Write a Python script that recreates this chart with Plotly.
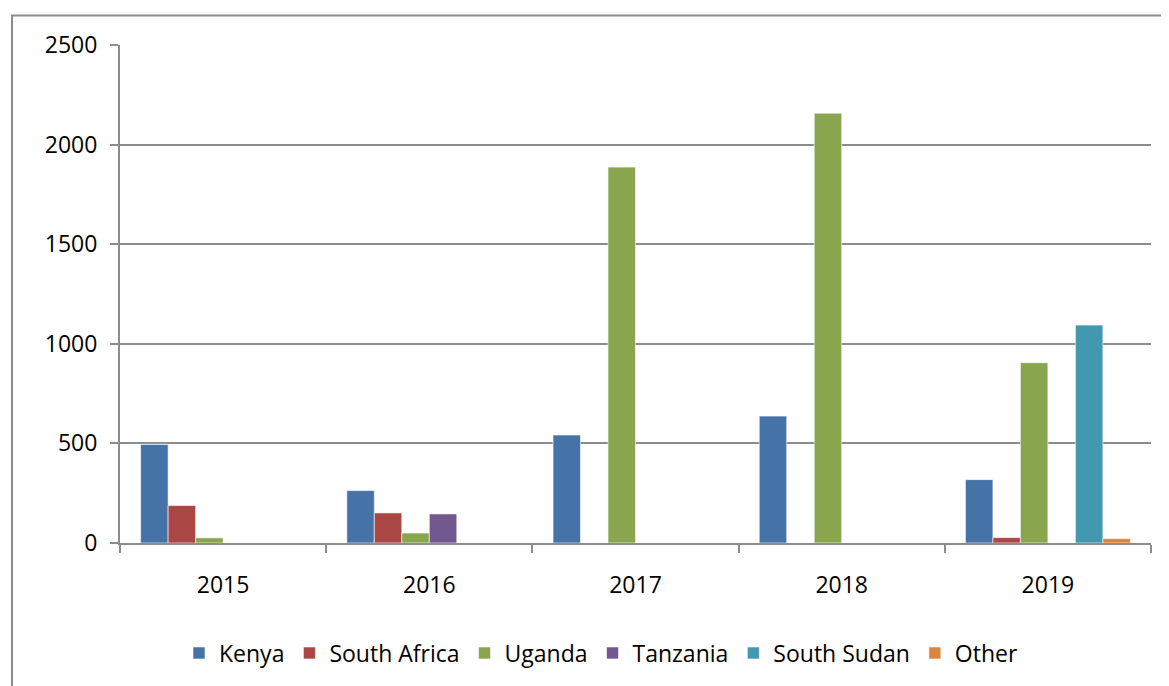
import plotly.graph_objects as go

years = ["2015", "2016", "2017", "2018", "2019"]

kenya = [495, 263, 542, 637, 318]
south_africa = [188, 151, None, None, 27]
uganda = [26, 50, 1887, 2158, 905]
tanzania = [None, 146, None, None, None]
south_sudan = [None, None, None, None, 1094]
other = [None, None, None, None, 22]

series = [
    ("Kenya", kenya, "#4572A7"),
    ("South Africa", south_africa, "#AA4643"),
    ("Uganda", uganda, "#89A54E"),
    ("Tanzania", tanzania, "#71588F"),
    ("South Sudan", south_sudan, "#4198AF"),
    ("Other", other, "#DB843D"),
]

# page body has an 8px margin, so the figure is offset by 8px
OFF = 8
W, H = 1169 - OFF, 686 - OFF
L, R, T = 120 - OFF, 18, 45 - OFF
B = H + OFF - 543
pw, ph = W - L - R, H - T - B

fig = go.Figure()
for name, vals, color in series:
    fig.add_trace(go.Bar(
        x=years, y=vals, name=name,
        marker=dict(color=color, line=dict(color="rgba(255,255,255,0.6)", width=1)),
    ))

grid = "#8c8c8c"
font = dict(family="Open Sans, Liberation Sans, sans-serif", size=23, color="#000000")


# convert screen pixels to paper coords
def px_x(x):
    return (x - OFF - L) / pw


def px_y(y):
    return (H + OFF - B - y) / ph


# outer chart border (cropped at right and bottom in the original)
fig.add_shape(type="rect", xref="paper", yref="paper",
              x0=px_x(12), x1=px_x(1200), y0=px_y(15.5), y1=px_y(720),
              line=dict(color="#8c8c8c", width=2), fillcolor="rgba(0,0,0,0)", layer="below")

fig.update_layout(
    width=W, height=H,
    margin=dict(l=L, r=R, t=T, b=B),
    paper_bgcolor="white", plot_bgcolor="white",
    font=font,
    barmode="group", bargap=0.2, bargroupgap=0,
    showlegend=True,
    legend=dict(orientation="h", x=px_x(601), xanchor="center", y=px_y(653), yanchor="middle",
                font=dict(size=23), itemwidth=30, traceorder="normal"),
    xaxis=dict(
        type="category", tickson="boundaries", ticks="outside", ticklen=8, tickwidth=2,
        tickcolor=grid, showline=True, linecolor=grid, linewidth=2,
        showgrid=False, ticklabelstandoff=20,
    ),
    yaxis=dict(
        range=[0, 2500], dtick=500, ticks="outside", ticklen=8, tickwidth=2, tickcolor=grid,
        showline=True, linecolor=grid, linewidth=2,
        showgrid=True, gridcolor=grid, gridwidth=2, zeroline=False,
        ticklabelstandoff=8,
    ),
)

fig.write_html("out.html")
